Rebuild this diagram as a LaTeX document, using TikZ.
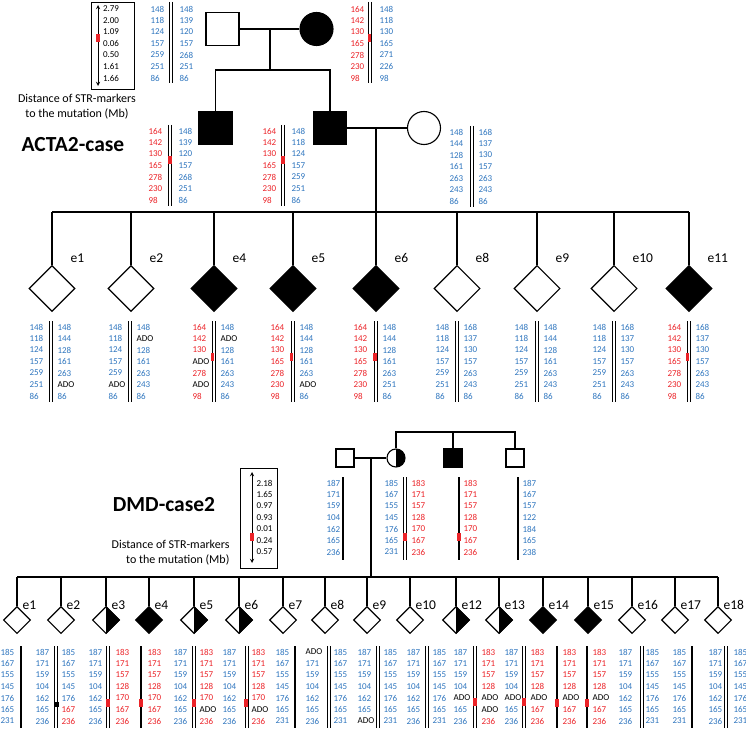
\documentclass[tikz,border=0pt]{standalone}
\usepackage{fontspec}
\setmainfont{Carlito}
\usetikzlibrary{shapes.geometric}
\definecolor{strblue}{RGB}{46,117,190}
\definecolor{strred}{RGB}{235,35,40}
\newcommand{\ado}{\textcolor{black}{ADO}}
\newcommand{\rdv}[1]{\textcolor{strred}{#1}}
% one haplotype column: name, x, first row, colour, alleles
\newcommand{\hapcol}[5]{%
  \foreach \v [count=\k from 0] in {#5}
    \node[num,text=#4] (#1\k) at (#2,#3+11.5*\k) {\v};}
\newcommand{\dbl}[3]{\draw[hline] (#1-1.5,#2) -- (#1-1.5,#3); \draw[hline] (#1+1.5,#2) -- (#1+1.5,#3);}
\newcommand{\sgl}[3]{\draw[hline,line width=1.3pt] (#1,#2) -- (#1,#3);}
\newcommand{\redbar}[2]{\fill[strred] (#1-1.6,#2-4) rectangle (#1+1.6,#2+4);}
\begin{document}
\begin{tikzpicture}[x=1pt,y=-1pt,line width=1.1pt,
  bigm/.style={draw,minimum size=33pt,inner sep=0},
  bigf/.style={draw,circle,minimum size=33pt,inner sep=0},
  smm/.style={draw,minimum size=18pt,inner sep=0},
  smf/.style={draw,circle,minimum size=18pt,inner sep=0},
  emb/.style={draw,diamond,aspect=1,minimum size=46pt,inner sep=0},
  semb/.style={draw,diamond,aspect=1,minimum size=27pt,inner sep=0},
  num/.style={anchor=west,inner sep=0,font=\fontsize{9}{10}\selectfont},
  elbl/.style={anchor=west,inner sep=0,font=\fontsize{13.5}{14}\selectfont},
  legbox/.style={draw,line width=0.8pt,inner sep=0},
  dist/.style={inner sep=0,font=\fontsize{12}{15}\selectfont},
  casename/.style={inner sep=0,font=\fontsize{21.5}{24}\selectfont\bfseries},
  hline/.style={line width=0.8pt}]
\useasboundingbox (0,0) rectangle (746,730);

%%% ACTA2-case
% legend
\node[legbox,minimum width=43pt,minimum height=87pt] (leg1) at (112.5,45.5) {};
\draw[<->,>=stealth,line width=0.9pt] (98,5) -- (98,86);
\redbar{98}{38}
\hapcol{lg}{102.5}{9}{black}{2.79,2.00,1.09,0.06,0.50,1.61,1.66}
\node[dist,align=center] (dist1) at (77,107) {Distance of STR-markers\\to the mutation (Mb)};
\node[casename] (t1) at (73,145) {ACTA2-case};

% parents and sons
\node[bigm] (f1) at (222.5,29) {};
\node[bigf,fill=black] (m1) at (316.5,29) {};
\draw (f1) -- (m1);
\coordinate (c1) at (270,29);
\coordinate (c1b) at (270,70);
\draw (c1) -- (c1b);
\node[bigm,fill=black] (s1) at (215.5,128) {};
\node[bigm,fill=black] (s2) at (330,128) {};
\draw (s1.north) |- (c1b) -| (s2.north);
\node[bigf] (w1) at (424,128) {};
\draw (s2) -- (w1);
\coordinate (c2) at (376,128);
\coordinate (c2b) at (376,212);
\draw (c2) -- (c2b);

% embryos
\foreach \x/\n/\f in {52/1/white,131/2/white,214/4/black,293/5/black,376/6/black,457/8/white,537/9/white,614/10/white,689/11/black}{
  \coordinate (sa\n) at (\x,212);
  \node[emb,fill=\f] (ea\n) at (\x,288.5) {};
  \draw (sa\n) -- (ea\n.north);
  \node[elbl] (la\n) at (\x+18,258) {e\n};
}
\draw (sa1) -- (sa11);

% haplotypes, parents
\hapcol{hfa}{150}{9}{strblue}{148,118,124,157,259,251,86}
\dbl{171}{2}{83}
\hapcol{hfb}{179}{9}{strblue}{148,139,120,157,268,251,86}
\hapcol{hma}{350}{9}{strred}{164,142,130,165,278,230,98}
\dbl{369.5}{2}{83}
\redbar{369.5}{38}
\hapcol{hmb}{379}{9}{strblue}{148,118,130,165,271,226,98}
% sons and wife
\hapcol{hsa}{148}{131}{strred}{164,142,130,165,278,230,98}
\dbl{170}{125}{206}
\redbar{170}{160.5}
\hapcol{hsb}{178}{131}{strblue}{148,139,120,157,268,251,86}
\hapcol{hta}{262}{131}{strred}{164,142,130,165,278,230,98}
\dbl{283}{125}{206}
\redbar{283}{160.5}
\hapcol{htb}{291}{131}{strblue}{148,118,124,157,259,251,86}
\hapcol{hwa}{449}{132}{strblue}{148,144,128,161,263,243,86}
\dbl{472}{126}{207}
\hapcol{hwb}{478}{132}{strblue}{168,137,130,157,263,243,86}

% embryos
\hapcol{ha1}{29}{327}{strblue}{148,118,124,157,259,251,86}
\dbl{51}{321}{402}
\hapcol{hb1}{57}{327}{strblue}{148,144,128,161,263,\ado,86}
\hapcol{ha2}{108}{327}{strblue}{148,118,124,157,259,\ado,86}
\dbl{130}{321}{402}
\hapcol{hb2}{136}{327}{strblue}{148,\ado,128,161,263,243,86}
\hapcol{ha4}{192}{327}{strred}{164,142,130,\ado,278,\ado,98}
\dbl{213.5}{321}{402}
\redbar{212.5}{357}
\hapcol{hb4}{220}{327}{strblue}{148,\ado,128,161,263,243,86}
\hapcol{ha5}{270}{327}{strred}{164,142,130,165,278,230,98}
\dbl{292.5}{321}{402}
\redbar{291.5}{357}
\hapcol{hb5}{299}{327}{strblue}{148,144,128,161,263,\ado,86}
\hapcol{ha6}{353}{327}{strred}{164,142,130,165,278,230,98}
\dbl{376}{321}{402}
\redbar{375}{357}
\hapcol{hb6}{382}{327}{strblue}{148,144,128,161,263,251,86}
\hapcol{ha8}{435}{327}{strblue}{148,118,124,157,259,251,86}
\dbl{456.5}{321}{402}
\hapcol{hb8}{463}{327}{strblue}{168,137,130,157,263,243,86}
\hapcol{ha9}{514}{327}{strblue}{148,118,124,157,259,251,86}
\dbl{536.5}{321}{402}
\hapcol{hb9}{543}{327}{strblue}{148,144,128,161,263,243,86}
\hapcol{ha10}{592}{327}{strblue}{148,118,124,157,259,251,86}
\dbl{613.5}{321}{402}
\hapcol{hb10}{620}{327}{strblue}{168,137,130,157,263,243,86}
\hapcol{ha11}{667}{327}{strred}{164,142,130,165,278,230,98}
\dbl{688.5}{321}{402}
\redbar{687.5}{357}
\hapcol{hb11}{695}{327}{strblue}{168,137,130,157,263,243,86}

%%% DMD-case2
\node[legbox,minimum width=37pt,minimum height=100pt] (leg2) at (258.5,518) {};
\draw[<->,>=stealth,line width=0.9pt] (252,472) -- (252,563);
\redbar{252}{536.5}
\hapcol{lh}{256}{483}{black}{2.18,1.65,0.97,0.93,0.01,0.24,0.57}
\node[casename] (t2) at (164,505) {DMD-case2};
\node[dist,align=right,anchor=east] (dist2) at (230,553) {Distance of STR-markers\\to the mutation (Mb)};

% family
\coordinate (g1) at (396,432);
\node[smm] (f2) at (345,458) {};
\node[smf] (m2) at (396,458) {};
\begin{scope}
  \clip (396,445) rectangle (410,471);
  \fill (m2.center) circle[radius=9pt];
\end{scope}
\node[smm,fill=black] (b2) at (453,458) {};
\node[smm] (u2) at (515,458) {};
\draw (m2.north) -- (m2.north |- g1) -- (u2.north |- g1) -- (u2.north);
\draw (b2.north) -- (b2.north |- g1);
\draw (f2) -- (m2);
\coordinate (c3) at (371,458);
\coordinate (c3b) at (371,577);
\draw (c3) -- (c3b);

\foreach \x/\n/\f in {17/1/white,61/2/white,106/3/white,149/4/black,194/5/white,239/6/white,283/7/white,325/8/white,367/9/white,410/10/white,456/12/white,499/13/white,543/14/black,588/15/black,632/16/white,675/17/white,718/18/white}{
  \coordinate (sd\n) at (\x,577);
  \node[semb,fill=\f] (ed\n) at (\x,620) {};
  \draw (sd\n) -- (ed\n.north);
  \node[elbl] (ld\n) at (\x+5,605) {e\n};
}
\foreach \n in {3,5,6,12,13}
  \fill (ed\n.north) -- (ed\n.east) -- (ed\n.south) -- cycle;
\draw (sd1) -- (sd18);

% haplotypes, family
\hapcol{gfa}{326}{483}{strblue}{187,171,159,104,162,165,236}
\sgl{343}{477}{560}
\hapcol{gma}{384}{483}{strblue}{185,167,155,145,176,165,231}
\dbl{405}{477}{560}
\redbar{405}{537}
\hapcol{gmb}{411}{483}{strred}{183,171,157,128,170,167,236}
\sgl{459}{477}{560}
\redbar{459}{537}
\hapcol{gba}{463}{483}{strred}{183,171,157,128,170,167,236}
\sgl{518}{477}{560}
\hapcol{gua}{522}{483}{strblue}{187,167,157,122,184,165,238}

% haplotypes, embryos
\hapcol{da}{0}{652}{strblue}{185,167,155,145,176,165,231}
\sgl{21}{646}{728}
\hapcol{db}{35}{652}{strblue}{187,171,159,104,162,165,236}
\dbl{56}{646}{728}
\fill (53.5,701.5) rectangle (58.5,706.5);
\hapcol{dc}{61}{652}{strblue}{185,167,155,145,176,\rdv{167},\rdv{236}}
\hapcol{dd}{88}{652}{strblue}{187,171,159,104,162,165,236}
\dbl{108}{646}{728}
\redbar{108}{703}
\hapcol{de}{115}{652}{strred}{183,171,157,128,170,167,236}
\sgl{141}{646}{728}
\redbar{141}{703}
\hapcol{df}{147}{652}{strred}{183,171,157,128,170,167,236}
\hapcol{dg}{173}{652}{strblue}{187,171,159,104,162,165,236}
\dbl{194}{646}{728}
\redbar{194}{703}
\hapcol{dh}{199}{652}{strred}{183,171,157,128,170,\ado,236}
\hapcol{di}{222}{652}{strblue}{187,171,159,104,162,165,236}
\dbl{247}{646}{728}
\redbar{246}{703}
\hapcol{dj}{251}{652}{strred}{183,171,157,128,170,\ado,236}
\hapcol{dk}{275}{652}{strblue}{185,167,155,145,176,165,231}
\sgl{295}{646}{728}
\hapcol{dl}{305}{652}{strblue}{\ado,171,159,104,162,165,236}
\dbl{329}{646}{728}
\hapcol{dm}{333}{652}{strblue}{185,167,155,145,176,165,231}
\hapcol{dn}{357}{652}{strblue}{187,171,159,104,162,165,\ado}
\dbl{378}{646}{728}
\hapcol{do}{383}{652}{strblue}{185,167,155,145,176,165,231}
\hapcol{dp}{406}{652}{strblue}{187,171,159,104,162,165,236}
\dbl{427}{646}{728}
\hapcol{dq}{432}{652}{strblue}{185,167,155,145,176,165,231}
\hapcol{dr}{453}{652}{strblue}{187,171,159,104,\ado,165,236}
\dbl{475}{646}{728}
\redbar{475}{702}
\hapcol{ds}{481}{652}{strred}{183,171,157,128,\ado,\ado,236}
\hapcol{dt}{504}{652}{strblue}{187,171,159,104,\ado,165,236}
\dbl{524}{646}{728}
\redbar{524}{702}
\hapcol{du}{530}{652}{strred}{183,171,157,128,\ado,167,236}
\sgl{557}{646}{728}
\redbar{557}{703}
\hapcol{dv}{562}{652}{strred}{183,171,157,128,\ado,167,236}
\sgl{587}{646}{728}
\redbar{587}{703}
\hapcol{dw}{592}{652}{strred}{183,171,157,128,\ado,167,236}
\hapcol{dx}{618}{652}{strblue}{187,171,159,104,162,165,236}
\dbl{642}{646}{728}
\hapcol{dy}{645}{652}{strblue}{185,167,155,145,176,165,231}
\hapcol{dz}{672}{652}{strblue}{185,167,155,145,176,165,231}
\sgl{692}{646}{728}
\hapcol{dA}{708}{652}{strblue}{187,171,159,104,162,165,236}
\dbl{726}{646}{728}
\hapcol{dB}{733}{652}{strblue}{185,167,155,145,176,165,231}
\end{tikzpicture}
\end{document}
